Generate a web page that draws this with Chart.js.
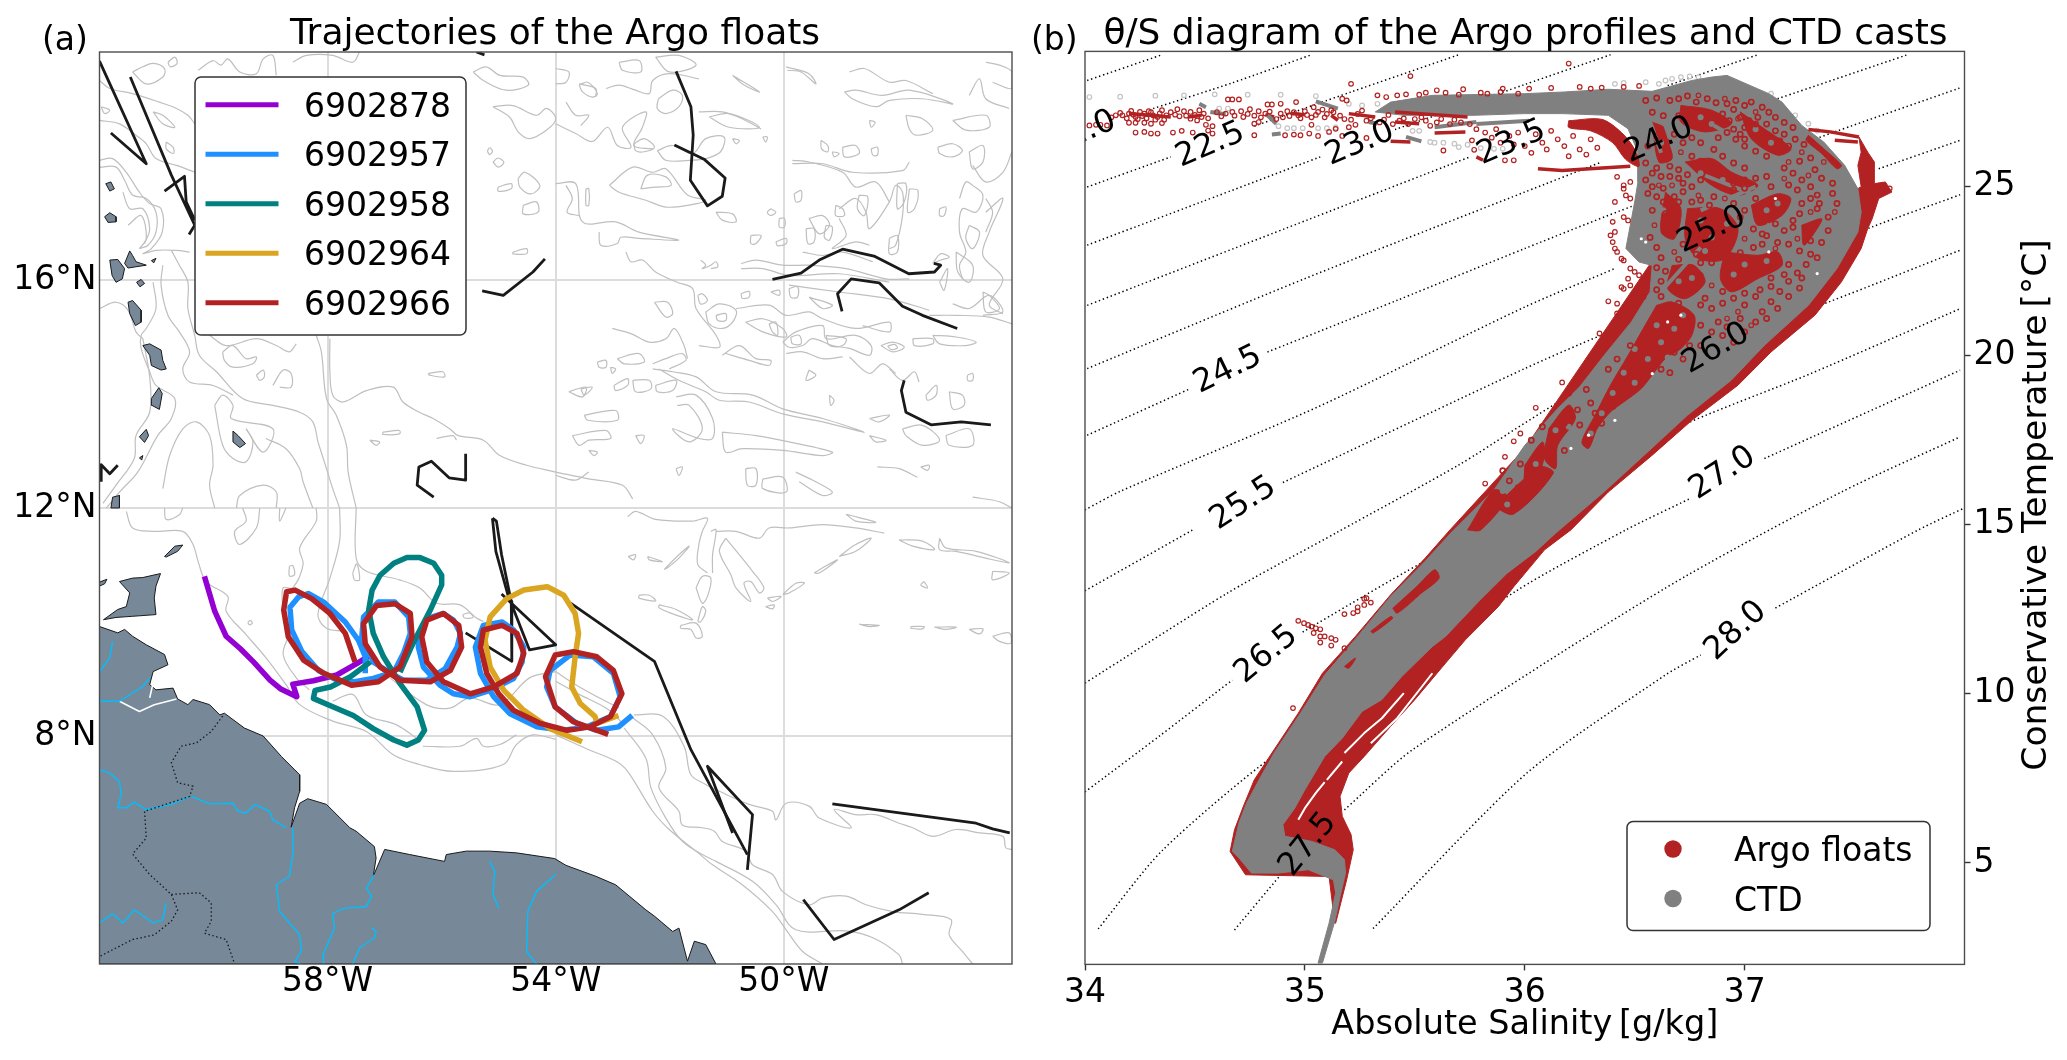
<!DOCTYPE html>
<html><head><meta charset="utf-8"><title>Argo floats</title>
<script src="https://cdn.jsdelivr.net/npm/chart.js@4/dist/chart.umd.js"></script>
<style>html,body{margin:0;padding:0;background:#fff;overflow:hidden}canvas{position:absolute;top:0}#map{left:0}#ts{left:1020px}</style>
</head><body>
<canvas id="map" width="1020" height="1060"></canvas>
<canvas id="ts" width="1047" height="1060"></canvas>
<script>
// ---------- text ----------
const mapTitle = 'Trajectories of the Argo floats';
const tsTitle = 'θ/S diagram of the Argo profiles and CTD casts';
const mapPanel = '(a)', tsPanel = '(b)';
const salinityLabel = 'Absolute Salinity\u2009[g/kg]';
const temperatureLabel = 'Conservative Temperature\u2009[°C]';
// ---------- axes ----------
const lonTicks = [-58, -54, -50], lonTickLabels = ['58°W', '54°W', '50°W'];
const latTicks = [8, 12, 16], latTickLabels = ['8°N', '12°N', '16°N'];
const salinityTicks = [34, 35, 36, 37];
const temperatureTicks = [5, 10, 15, 20, 25];
// ---------- float trajectories [lon, lat] ----------
const floatNames = ['6902878', '6902957', '6902958', '6902964', '6902966'];
const floatColors = ['#9400d3', '#1e90ff', '#008080', '#daa520', '#b22222'];
const float6902878 = [[-60.16,10.80],[-59.98,10.19],[-59.78,9.75],[-59.53,9.53],[-59.30,9.30],[-59.01,8.98],[-58.83,8.83],[-58.54,8.69],[-58.61,8.91],[-58.25,8.97],[-57.84,9.07],[-57.49,9.27],[-57.20,9.45]];
const float6902957 = [[-57.34,9.10],[-57.34,9.39],[-57.46,9.68],[-57.69,10.0],[-58.07,10.35],[-58.34,10.50],[-58.51,10.44],[-58.66,10.26],[-58.63,9.86],[-58.45,9.48],[-58.16,9.15],[-57.84,8.98],[-57.55,8.95],[-57.20,9.01],[-56.84,9.12],[-56.67,9.45],[-56.55,9.80],[-56.58,10.09],[-56.82,10.35],[-57.11,10.35],[-57.37,10.09],[-57.40,9.74],[-57.20,9.30],[-56.90,9.10],[-56.67,8.98],[-56.26,8.98],[-55.94,9.18],[-55.73,9.56],[-55.67,9.80],[-55.79,10.03],[-55.97,10.15],[-56.26,10.06],[-56.38,9.80],[-56.41,9.56],[-56.32,9.21],[-56.03,8.89],[-55.79,8.74],[-55.50,8.69],[-55.15,8.80],[-54.74,9.01],[-54.59,9.30],[-54.56,9.56],[-54.74,9.86],[-54.94,10.0],[-55.27,9.94],[-55.41,9.56],[-55.32,9.10],[-55.09,8.69],[-54.80,8.39],[-54.33,8.16],[-53.86,8.10],[-53.45,8.16],[-53.04,8.34],[-52.87,8.69],[-52.99,9.10],[-53.34,9.39],[-53.75,9.42],[-54.10,9.15],[-54.16,8.86],[-54.01,8.51],[-53.63,8.22],[-53.28,8.10],[-52.90,8.16],[-52.66,8.36]];
const float6902958 = [[-56.73,9.12],[-56.52,9.59],[-56.20,10.21],[-56.00,10.65],[-56.00,10.82],[-56.14,11.03],[-56.38,11.13],[-56.61,11.13],[-56.84,11.03],[-57.08,10.82],[-57.22,10.56],[-57.28,10.21],[-57.20,9.80],[-57.02,9.39],[-56.73,8.92],[-56.43,8.51],[-56.30,8.10],[-56.41,7.93],[-56.61,7.84],[-56.84,7.93],[-57.20,8.13],[-57.55,8.36],[-57.90,8.51],[-58.25,8.66],[-58.22,8.80],[-57.95,8.86],[-57.60,9.04],[-57.25,9.30]];
const float6902964 = [[-53.54,7.90],[-54.10,8.13],[-54.56,8.45],[-54.91,8.80],[-55.15,9.21],[-55.24,9.68],[-55.15,10.09],[-54.86,10.41],[-54.56,10.56],[-54.15,10.62],[-53.86,10.47],[-53.66,10.15],[-53.60,9.80],[-53.66,9.39],[-53.72,8.86],[-53.57,8.57],[-53.31,8.34],[-53.28,8.22],[-52.90,8.36]];
const float6902966 = [[-57.52,9.30],[-57.69,9.80],[-57.96,10.15],[-58.28,10.41],[-58.57,10.56],[-58.72,10.53],[-58.77,10.21],[-58.69,9.74],[-58.42,9.33],[-58.07,9.10],[-57.58,8.89],[-57.11,8.95],[-56.73,9.21],[-56.52,9.74],[-56.55,10.15],[-56.82,10.32],[-57.14,10.29],[-57.37,9.97],[-57.34,9.62],[-57.08,9.21],[-56.73,8.98],[-56.20,8.95],[-55.85,9.15],[-55.65,9.56],[-55.70,9.94],[-55.97,10.15],[-56.26,10.03],[-56.35,9.74],[-56.26,9.30],[-55.97,8.95],[-55.50,8.74],[-55.09,8.86],[-54.68,9.10],[-54.56,9.45],[-54.68,9.80],[-54.94,9.94],[-55.27,9.86],[-55.32,9.56],[-55.21,9.10],[-55.0,8.74],[-54.74,8.45],[-54.27,8.22],[-53.80,8.10],[-53.40,8.16],[-53.04,8.34],[-52.84,8.74],[-52.99,9.15],[-53.28,9.39],[-53.69,9.48],[-54.01,9.42],[-54.18,9.04],[-54.01,8.51],[-53.69,8.25],[-53.08,8.03]];
// ---------- CTD sections [lon, lat] ----------
const ctdTracks = [
[[-62,19.84],[-61.18,18.04],[-61.80,18.58]],
[[-61.46,19.56],[-60.74,17.84],[-60.33,16.96],[-60.43,16.80]],
[[-60.86,17.56],[-60.51,17.82],[-60.48,17.37],[-60.33,17.05]],
[[-55.29,15.81],[-54.92,15.73],[-54.40,16.14],[-54.19,16.37]],
[[-61.97,12.46],[-61.97,12.76],[-61.82,12.60],[-61.68,12.75]],
[[-56.14,12.19],[-56.43,12.40],[-56.40,12.72],[-56.18,12.82],[-55.87,12.53],[-55.58,12.49],[-55.58,12.95]],
[[-55.39,20],[-55.25,19.95]],
[[-51.89,19.66],[-51.63,19.04],[-51.59,18.54],[-51.64,17.75],[-51.34,17.30],[-51.08,17.47],[-51.03,17.79],[-51.40,18.12],[-51.92,18.37]],
[[-50.20,16.01],[-49.70,16.12],[-49.38,16.35],[-48.97,16.54],[-48.42,16.42],[-47.81,16.11],[-47.36,16.14],[-47.25,16.26],[-47.37,16.29]],
[[-48.98,15.45],[-49.06,15.76],[-48.82,16.02],[-48.33,15.95],[-47.92,15.54],[-47.57,15.38],[-46.96,15.15]],
[[-47.89,14.24],[-47.94,14.06],[-47.86,13.68],[-47.42,13.46],[-46.89,13.51],[-46.37,13.46]],
[[-55.11,11.82],[-55.04,11.77],[-54.95,11.18],[-54.78,10.36],[-54.77,9.31],[-55.58,9.81]],
[[-55.11,11.82],[-55.05,11.24],[-54.84,10.48],[-54.46,9.51],[-54,9.60],[-54.95,10.49]],
[[-53.74,10.33],[-52.27,9.31],[-51.63,7.76],[-50.64,5.92]],
[[-50.90,6.30],[-51.34,7.47],[-50.55,6.62],[-50.64,5.65]],
[[-49.15,6.81],[-46.63,6.47],[-46.34,6.37],[-46.04,6.30]],
[[-49.66,5.13],[-49.12,4.43],[-47.98,4.95],[-47.46,5.25]]
];
// ---------- land [lon, lat] ----------
const southAmerica = [[-62,9.92],[-61.68,9.81],[-61.56,9.87],[-61.42,9.75],[-61.18,9.60],[-60.86,9.43],[-60.80,9.25],[-61.06,9.13],[-61.12,8.90],[-61.01,8.81],[-60.71,8.84],[-60.63,8.65],[-60.45,8.55],[-60.36,8.64],[-60.07,8.55],[-59.89,8.37],[-59.81,8.40],[-59.46,8.14],[-59.13,8.00],[-58.81,7.64],[-58.49,7.32],[-58.49,7.03],[-58.58,6.74],[-58.64,6.40],[-58.49,6.82],[-58.35,6.90],[-58.02,6.80],[-57.61,6.39],[-57.50,6.33],[-57.18,6.06],[-57.15,5.86],[-57.20,5.54],[-57.00,6.01],[-56.56,5.92],[-55.95,5.80],[-55.92,5.92],[-55.57,5.98],[-55.16,5.98],[-54.69,5.95],[-54.02,5.85],[-53.82,5.73],[-53.30,5.54],[-52.95,5.39],[-52.42,4.95],[-52.27,4.84],[-51.95,4.57],[-51.84,4.63],[-51.75,4.28],[-51.69,4.05],[-51.57,4.40],[-51.37,4.34],[-51.19,4.0],[-62,4.0]];
const islands = [
[[-61.65,10.71],[-61.42,10.77],[-61.24,10.78],[-60.93,10.85],[-61.01,10.63],[-61.04,10.42],[-61.01,10.13],[-61.42,10.10],[-61.71,10.08],[-61.93,10.04],[-61.68,10.22],[-61.53,10.27],[-61.47,10.51]],
[[-60.86,11.15],[-60.68,11.33],[-60.54,11.35],[-60.63,11.24],[-60.83,11.14]],
[[-62,10.70],[-61.87,10.75],[-61.91,10.67],[-62,10.63]],
[[-61.89,17.69],[-61.80,17.72],[-61.74,17.60],[-61.82,17.56]],
[[-61.91,17.11],[-61.82,17.18],[-61.71,17.11],[-61.71,17.02],[-61.85,17.01]],
[[-61.82,16.35],[-61.68,16.36],[-61.56,16.20],[-61.60,16.02],[-61.71,15.96],[-61.78,16.08]],
[[-61.56,16.29],[-61.47,16.51],[-61.42,16.43],[-61.36,16.32],[-61.18,16.26],[-61.50,16.21]],
[[-61.35,15.96],[-61.27,16.01],[-61.21,15.94],[-61.29,15.88]],
[[-61.50,15.61],[-61.42,15.64],[-61.27,15.47],[-61.27,15.26],[-61.37,15.20],[-61.47,15.41]],
[[-61.24,14.85],[-61.12,14.88],[-60.92,14.77],[-60.89,14.59],[-60.83,14.44],[-60.92,14.42],[-61.09,14.50],[-61.12,14.68]],
[[-61.09,13.92],[-60.96,14.11],[-60.90,14.01],[-60.95,13.73],[-61.08,13.80]],
[[-61.30,13.25],[-61.18,13.38],[-61.14,13.27],[-61.21,13.15]],
[[-59.66,13.35],[-59.57,13.27],[-59.44,13.13],[-59.54,13.06],[-59.66,13.16]],
[[-61.77,12.19],[-61.65,12.22],[-61.65,12.0],[-61.80,12.0]],
[[-61.30,12.88],[-61.24,12.92],[-61.26,12.84]],[[-61.09,16.34],[-61.01,16.38],[-61.05,16.30]]
];
const countryBorders = [
[[-59.84,8.35],[-60.04,8.08],[-60.30,7.88],[-60.57,7.82],[-60.74,7.53],[-60.63,7.18],[-60.36,7.12],[-60.42,6.94],[-61.21,6.68],[-61.18,6.21],[-61.42,5.93],[-61.12,5.57],[-60.74,5.22],[-60.63,4.95],[-60.74,4.75],[-61.04,4.51],[-61.42,4.43],[-61.77,4.25],[-62,4.13]],
[[-60.74,5.22],[-60.25,5.25],[-60.04,5.07],[-60.04,4.75],[-60.16,4.54],[-59.78,4.43],[-59.63,4.0]]
];
const rivers = [
[[-62,7.41],[-61.82,7.35],[-61.65,7.20],[-61.62,6.97],[-61.68,6.74],[-61.53,6.74],[-61.39,6.84],[-61.18,6.71],[-60.74,6.80],[-60.42,6.94]],
[[-60.39,6.94],[-60.07,6.81],[-59.66,6.82],[-59.57,6.68],[-59.43,6.65],[-59.28,6.80],[-59.02,6.68],[-58.96,6.53],[-58.73,6.39]],
[[-58.61,6.39],[-58.61,5.92],[-58.67,5.54],[-58.90,5.39],[-58.84,4.92],[-58.49,4.51],[-58.46,4.22],[-58.58,4.04],[-58.46,4]],
[[-62,4.72],[-61.77,4.88],[-61.59,4.72],[-61.39,4.95],[-61.06,4.72],[-60.89,4.78],[-60.83,5.07]],
[[-57.18,5.57],[-57.32,5.33],[-57.23,5.19],[-57.32,5.01],[-57.70,4.98],[-57.91,4.89],[-57.88,4.63],[-58.08,4.16],[-58.07,4]],
[[-55.16,5.80],[-55.07,5.63],[-55.10,5.22],[-55.00,4.98]],
[[-57.23,4.64],[-57.15,4.57],[-57.18,4.46],[-57.44,4.28],[-57.56,4]],
[[-54,5.57],[-54.34,5.27],[-54.49,4.92],[-54.51,4.22],[-54.34,4]],
[[-62,9.13],[-61.82,9.37],[-61.77,9.66]],
[[-62,8.61],[-61.65,8.61],[-61.24,8.87],[-61.12,9.02]]
];
const riverMouths = [
[[-61.65,8.61],[-61.30,8.43],[-61.04,8.55],[-60.65,8.65]],
[[-61.12,8.67],[-61.04,9.02],[-60.80,9.20]]
];
// ---------- bathymetry contours [lon, lat] ----------
const bathymetry = [
[[-62,18.10],[-61.77,18.13],[-61.53,17.89],[-61.30,17.54],[-61.12,17.34],[-60.92,17.25],[-60.90,16.84],[-61.09,16.55],[-61.24,16.46],[-61.01,16.52],[-60.65,16.52],[-60.42,16.49]],
[[-62,17.98],[-61.71,17.98],[-61.56,17.75],[-61.42,17.49],[-61.18,17.43],[-61.01,17.19],[-61.01,16.84],[-61.15,16.61],[-61.30,16.55]],
[[-61.59,17.54],[-61.47,17.25],[-61.24,17.25],[-61.12,16.90],[-61.21,16.64]],
[[-61.50,16.96],[-61.27,17.13],[-61.18,16.73],[-61.30,16.55]],
[[-62,19.50],[-61.82,19.36],[-61.42,19.27],[-60.95,19.12],[-60.65,19.01],[-60.45,18.89],[-60.33,18.74]],
[[-62,18.80],[-61.65,18.74],[-61.36,18.54],[-61.18,18.39],[-61.01,18.13],[-60.65,18.01],[-60.33,17.89]],
[[-61.42,19.65],[-61.24,19.74],[-61.06,19.80],[-60.86,19.71],[-60.89,19.56],[-61.18,19.44],[-61.42,19.65]],
[[-61.06,18.95],[-60.89,18.89],[-60.68,18.68],[-60.89,18.74],[-61.06,18.95]],
[[-60.80,19.82],[-60.68,19.91],[-60.64,19.80],[-60.76,19.74],[-60.80,19.82]],
[[-60.83,18.42],[-60.71,18.33],[-60.70,18.22],[-60.83,18.30],[-60.83,18.42]],
[[-61.97,19.04],[-61.82,18.98],[-61.91,18.92],[-61.97,19.04]],
[[-60.27,19.68],[-60.01,19.85],[-59.87,19.77],[-59.75,19.88],[-59.54,19.65],[-59.25,19.62],[-59.13,19.88],[-58.96,19.94],[-58.90,19.59]],
[[-58.61,19.82],[-58.37,19.94],[-57.91,19.94],[-57.56,19.82],[-57.44,20]],
[[-55.45,19.65],[-55.22,19.74],[-54.98,19.59],[-54.57,19.56],[-54.48,19.42],[-54.87,19.33],[-55.27,19.50],[-55.45,19.65]],
[[-55.10,19.04],[-54.75,19.06],[-54.34,18.89],[-54.16,19.01],[-54,18.83],[-54.16,18.63],[-54.46,18.48],[-54.66,18.60],[-54.81,18.86],[-55.10,19.04]],
[[-55.10,18.07],[-55.01,18.14],[-54.91,18.06],[-55.01,17.98],[-55.10,18.07]],
[[-55.20,18.26],[-55.16,18.32],[-55.11,18.26],[-55.16,18.20],[-55.20,18.26]],
[[-54.66,17.78],[-54.54,17.89],[-54.28,17.66],[-54.43,17.51],[-54.63,17.63],[-54.66,17.78]],
[[-55.01,17.63],[-54.78,17.69],[-54.78,17.60],[-55.01,17.56],[-55.01,17.63]],
[[-54.57,17.31],[-54.34,17.37],[-54.31,17.19],[-54.57,17.16],[-54.57,17.31]],
[[-54.75,16.49],[-54.51,16.55],[-54.51,16.46],[-54.75,16.46],[-54.75,16.49]],
[[-60.74,16.52],[-60.60,16.26],[-60.45,15.96],[-60.45,15.50],[-60.33,15.03],[-60.25,14.68],[-59.95,14.39],[-59.49,13.92],[-58.96,13.80],[-58.49,13.68],[-58.26,13.51],[-58.17,13.16]],
[[-60.89,16.26],[-60.92,15.91],[-60.80,15.38],[-60.60,15.09],[-60.42,14.74],[-60.54,14.44],[-60.42,14.21],[-60.01,14.15],[-59.66,13.98]],
[[-61.06,15.96],[-61.01,15.50],[-61.18,15.15],[-61.27,15.03],[-61.27,14.80],[-61.12,14.39],[-61.01,14.15],[-60.68,13.92],[-60.74,13.57],[-60.98,13.27],[-61.33,12.63],[-61.65,12.28],[-61.88,12.0]],
[[-61.24,14.97],[-61.12,14.30],[-61.12,13.68],[-61.36,13.27],[-61.39,12.87],[-61.71,12.40],[-61.94,12.08]],
[[-62,15.50],[-61.71,15.61],[-61.50,15.47],[-61.36,15.09],[-61.24,14.97]],
[[-57.96,14.97],[-57.96,14.39],[-57.91,13.98],[-57.73,13.86],[-57.32,14.06],[-56.85,14.12],[-56.68,13.86],[-56.39,13.68],[-56.15,13.57],[-55.86,13.39],[-55.71,13.27],[-55.27,13.19],[-54.98,12.92],[-54.51,12.75],[-54,12.63]],
[[-58.20,15.03],[-58.11,14.74],[-58.02,13.92],[-57.85,13.63],[-57.67,13.10],[-57.64,12.63],[-57.50,12.0]],
[[-58.17,13.16],[-58.02,12.69],[-57.91,12.34],[-57.79,12]],
[[-59.98,13.80],[-59.84,13.98],[-59.66,13.80],[-59.69,13.57],[-58.96,13.39],[-59.13,12.98],[-59.43,13.39]],
[[-59.98,13.80],[-59.84,13.10],[-59.66,12.87],[-59.43,12.81],[-59.31,13.16],[-59.43,13.39]],
[[-60.89,12.34],[-60.77,12.92],[-60.54,13.39],[-60.30,13.51],[-60.07,13.27],[-60.01,12.75],[-60.07,12.40],[-59.98,12]],
[[-59.60,12],[-59.54,12.22],[-59.13,12.40],[-58.90,12.28],[-58.90,12]],
[[-59.08,13.22],[-58.73,13.04],[-58.49,12.69],[-58.43,12.46],[-58.26,12]],
[[-59.84,14.74],[-59.66,14.85],[-59.43,14.62],[-59.25,14.65],[-59.31,14.53],[-59.66,14.47],[-59.81,14.59],[-59.84,14.74]],
[[-59.25,14.33],[-59.13,14.42],[-59.11,14.30],[-59.19,14.24],[-59.25,14.33]],
[[-58.96,14.15],[-58.78,14.42],[-58.64,14.36],[-58.64,14.12],[-58.84,14.12]],
[[-56.24,14.36],[-55.98,14.39],[-55.95,14.30],[-56.21,14.33],[-56.24,14.36]],
[[-57.03,13.33],[-56.74,13.36],[-56.74,13.30],[-57.03,13.29],[-57.03,13.33]],
[[-56.09,13.22],[-55.80,13.27],[-55.74,13.19]],
[[-57.26,13.19],[-57.09,13.16],[-57.15,13.10],[-57.26,13.19]],
[[-60.07,15.03],[-59.78,14.85],[-59.25,14.97],[-58.90,14.85],[-58.67,14.74],[-58.55,14.88]],
[[-61.53,11.94],[-61.42,11.65],[-61.06,11.59],[-60.54,11.59],[-60.36,11.36],[-60.27,11.06],[-60.13,10.71],[-59.75,10.45],[-59.78,10.19],[-59.43,9.78],[-59.08,9.37],[-58.73,8.90],[-58.49,8.55],[-57.91,8.26],[-57.32,8.08],[-56.85,7.67],[-56.39,7.50],[-55.80,7.38],[-54.92,7.50],[-54.69,7.85],[-54.40,8.02],[-54,7.94]],
[[-58.20,12],[-58.20,11.77],[-58.49,11.30],[-58.43,11.01],[-58.61,10.60],[-58.78,10.60],[-58.78,10.25],[-58.67,9.84],[-58.78,9.43],[-58.55,9.02],[-58.32,8.81]],
[[-57.79,12],[-57.79,11.42],[-57.96,10.77],[-58.17,10.13],[-58.02,9.89],[-57.73,9.84]],
[[-57.50,12],[-57.50,11.12],[-57.32,10.89],[-56.74,10.74],[-56.39,10.60],[-56.09,10.33],[-55.68,10.30],[-55.39,10.07],[-55.27,10.01]],
[[-57.91,8.61],[-57.56,8.73],[-57.32,8.37],[-56.80,8.20],[-56.44,7.96]],
[[-56.91,9.02],[-56.27,8.55],[-55.86,8.49],[-55.51,8.67],[-54.98,8.55],[-54.46,9.02],[-54,9.13]],
[[-56.33,7.82],[-55.68,7.82],[-55.39,7.96],[-55.27,7.82],[-54.98,7.85],[-54.69,8.02]],
[[-58.67,10.98],[-58.61,10.99],[-58.58,10.83],[-58.67,10.81],[-58.67,10.98]],
[[-57.56,10.86],[-57.49,11.02],[-57.44,10.74],[-57.53,10.74],[-57.56,10.86]],
[[-59.40,9.99],[-59.36,10.03],[-59.32,9.98],[-59.37,9.95],[-59.40,9.99]],
[[-59.49,12],[-59.43,11.77],[-59.63,11.59],[-59.54,11.36],[-59.25,11.65],[-59.19,12]],
[[-60.86,12],[-60.83,11.80],[-60.60,11.88],[-60.54,12]],
[[-58.84,12],[-58.84,11.77],[-58.73,12]],
[[-55.63,10.13],[-55.51,10.16],[-55.45,10.08],[-55.60,10.07],[-55.63,10.13]],
[[-54,8.02],[-53.42,7.76],[-52.95,7.56],[-52.74,7.38],[-52.30,6.68],[-52.01,6.36],[-51.54,5.98],[-51.25,5.74],[-50.73,5.39],[-50.20,4.92],[-49.96,4.60],[-49.67,4.22],[-49.32,4]],
[[-52.80,8.14],[-52.42,7.61],[-52.33,7.09],[-52.07,6.56],[-51.78,6.15],[-51.43,5.92],[-51.19,5.80],[-50.55,5.45],[-50.14,5.04],[-49.79,4.60],[-48.91,4.58],[-48.44,4.46],[-47.98,4.16],[-47.92,4]],
[[-52.65,8.32],[-52.30,8.02],[-52.07,7.44],[-52.19,7.09],[-51.84,6.68],[-51.78,6.44],[-51.43,6.39],[-51.22,6.33],[-51.08,6.15],[-50.67,5.98],[-50.55,5.74],[-50.20,5.57],[-50.02,5.27],[-49.56,5.04],[-49.32,5.16],[-48.91,5.19],[-48.56,5.04],[-48.09,4.92],[-47.57,4.87],[-47.07,4.78],[-47.10,4.51],[-46.87,4.22],[-46.69,4]],
[[-52.63,8.37],[-52.13,8.35],[-51.75,7.82],[-51.63,7.32],[-51.37,7.15],[-51.13,7.03],[-50.61,6.80],[-50.20,6.68],[-50.14,6.53],[-49.96,6.82],[-49.56,6.77],[-49.38,6.56],[-48.82,6.39],[-49.12,6.71],[-48.74,6.62],[-48.39,6.62],[-47.98,6.47],[-47.74,6.39],[-47.39,6.24],[-46.98,6.36],[-46.57,6.30],[-46.16,6.24],[-46.11,6.04],[-46,6.01]],
[[-54,9.13],[-53.65,8.90],[-53.24,8.67],[-52.89,8.49]],
[[-54,8.96],[-53.59,8.73],[-53.12,8.49],[-52.80,8.20]],
[[-52.74,11.85],[-52.60,11.94],[-52.25,11.80],[-51.60,11.77],[-51.34,11.82],[-51.43,11.59],[-51.49,11.36],[-51.51,11.01],[-51.34,10.86]],
[[-51.54,10.60],[-51.43,10.80],[-51.28,10.77],[-51.34,10.45],[-51.43,10.33],[-51.54,10.60]],
[[-51.02,11.47],[-50.55,10.89],[-50.35,10.60],[-50.43,10.51],[-50.58,10.71],[-50.70,10.68],[-50.58,10.36],[-50.84,10.60],[-50.93,10.83],[-51.13,11.24],[-51.02,11.47]],
[[-51.28,11.59],[-51.19,11.62],[-51.25,11.18],[-51.25,10.86]],
[[-51.19,11.59],[-50.84,11.59],[-50.43,11.47],[-50.26,11.65],[-49.91,11.65],[-49.32,11.71],[-48.74,11.65],[-48.24,11.56]],
[[-52.54,10.47],[-52.36,10.47],[-52.25,10.37],[-52.54,10.42],[-52.54,10.47]],
[[-52.19,10.30],[-51.89,10.22],[-51.60,10.04],[-51.89,10.12],[-52.19,10.25],[-52.19,10.30]],
[[-51.81,9.94],[-51.54,9.98],[-51.43,9.75],[-51.54,9.72],[-51.63,9.87],[-51.81,9.89],[-51.81,9.94]],
[[-51.51,10.01],[-51.43,10.27],[-51.37,10.19],[-51.46,10.0],[-51.51,10.01]],
[[-50.02,10.48],[-49.79,10.68],[-49.64,10.68],[-49.91,10.51],[-50.02,10.48]],
[[-49.47,10.86],[-49.32,10.95],[-49.06,11.09],[-49.38,10.86],[-49.47,10.86]],
[[-49.03,11.15],[-48.74,11.36],[-48.47,11.47],[-48.74,11.24],[-49.03,11.15]],
[[-50.29,10.42],[-50.05,10.45],[-50.20,10.36],[-50.29,10.42]],
[[-50.32,10.27],[-50.17,10.30],[-50.20,10.23],[-50.32,10.27]],
[[-47.27,11.47],[-47.16,11.30],[-46.63,11.24],[-46.05,11.04],[-46.46,11.12],[-46.98,11.24],[-47.27,11.27],[-47.27,11.47]],
[[-48.91,11.89],[-48.39,11.75],[-48.74,11.77],[-48.91,11.89]],
[[-47.98,11.44],[-47.57,11.42],[-47.36,11.27],[-47.74,11.33],[-47.98,11.44]],
[[-47.77,9.92],[-47.54,9.92],[-47.57,9.88],[-47.77,9.89],[-47.77,9.92]],
[[-47.36,9.91],[-46.98,9.91],[-47.16,9.87],[-47.36,9.91]],
[[-48.68,9.96],[-48.33,9.94],[-48.50,9.92],[-48.68,9.96]],
[[-46.75,9.87],[-46.51,9.88],[-46.57,9.79],[-46.75,9.87]],
[[-46.34,9.75],[-46.05,9.81],[-46.02,9.63],[-46.22,9.66],[-46.34,9.75]],
[[-47.54,10.71],[-47.48,10.60],[-47.60,10.65],[-47.54,10.71]],
[[-52.10,10.92],[-51.84,11.18],[-51.66,11.33],[-51.84,11.12],[-52.04,10.95],[-52.10,10.92]],
[[-52.39,11.15],[-52.13,11.06],[-52.36,11.09],[-52.39,11.15]],
[[-52.73,11.15],[-52.60,11.18],[-52.64,11.09],[-52.73,11.15]],
[[-46.34,10.89],[-46.05,10.86],[-46.34,10.74],[-46.34,10.89]],
[[-54,18.74],[-53.65,18.57],[-53.36,18.43],[-53.09,18.68],[-52.92,18.36],[-52.68,18.33],[-52.83,18.68],[-52.42,18.95],[-52.48,18.68],[-52.63,18.36],[-52.30,18.30]],
[[-53.12,19.36],[-52.89,19.42],[-52.60,19.33],[-52.36,19.27],[-52.30,19.50],[-52.01,19.62],[-51.49,19.53]],
[[-52.22,18.27],[-51.95,18.36],[-51.60,18.22],[-51.37,18.48],[-51.05,18.51],[-51.11,18.25],[-51.37,18.13],[-51.66,18.10],[-52.07,18.10],[-52.22,18.27]],
[[-53.06,17.66],[-52.65,17.98],[-52.30,17.89],[-52.07,17.95],[-51.69,17.49],[-51.37,17.40],[-51.69,17.31],[-52.07,17.28],[-52.42,17.40],[-52.89,17.54],[-53.06,17.66]],
[[-52.51,17.60],[-52.39,17.84],[-52.07,17.81],[-51.98,17.66],[-52.25,17.63],[-52.51,17.60]],
[[-51.19,17.19],[-50.90,17.16],[-50.84,17.02],[-51.08,17.05],[-51.19,17.19]],
[[-54,17.69],[-53.65,17.69],[-53.53,17.02],[-52.95,17.02],[-52.54,16.84],[-51.84,16.70],[-52.54,16.73],[-52.86,16.75],[-52.92,16.64],[-53.21,16.61],[-53.24,16.84]],
[[-52.77,16.49],[-52.68,16.32],[-52.48,16.35],[-52.25,16.14],[-51.87,15.96],[-51.60,15.85],[-51.54,15.50],[-51.19,15.03],[-51.13,14.82],[-51.49,14.85]],
[[-51.37,15.44],[-51.13,15.58],[-50.84,15.47],[-50.90,15.26],[-51.08,15.15],[-51.31,15.23],[-51.37,15.44]],
[[-51.19,15.38],[-51.02,15.41],[-51.02,15.29],[-51.16,15.29],[-51.19,15.38]],
[[-50.67,15.26],[-50.37,15.32],[-50.02,15.15],[-49.96,15.0],[-50.37,15.09],[-50.67,15.26]],
[[-50.84,15.50],[-50.26,15.56],[-49.96,15.38],[-49.56,15.44],[-49.32,15.32],[-48.74,15.15],[-48.15,15.26],[-48.15,15.09],[-48.62,15.20]],
[[-50.02,14.91],[-49.79,15.09],[-49.32,15.20],[-49.26,14.97],[-48.74,15.03],[-48.47,14.85],[-48.50,14.68],[-48.85,14.80],[-49.15,14.85],[-49.50,14.97],[-49.67,14.85],[-49.91,14.82],[-50.02,14.91]],
[[-49.88,15.0],[-49.73,15.03],[-49.70,14.88],[-49.85,14.88],[-49.88,15.0]],
[[-52.30,14.44],[-51.95,14.39],[-51.54,14.30],[-51.19,14.04],[-50.55,13.98],[-50.02,13.74],[-49.32,13.57],[-48.59,13.33],[-49.32,13.51],[-50.02,13.65],[-50.61,13.86],[-51.13,13.89],[-51.37,14.04],[-51.84,14.24],[-52.19,14.44]],
[[-51.89,13.95],[-51.54,13.98],[-51.25,13.57],[-51.25,13.22],[-51.49,13.22],[-51.95,13.39],[-51.66,13.16],[-51.43,13.39],[-51.66,13.80],[-51.87,13.80]],
[[-51.08,13.33],[-50.49,13.27],[-49.91,13.16],[-49.15,12.98],[-49.32,12.92],[-50.02,13.01],[-50.73,13.04],[-51.02,12.98],[-51.08,13.33]],
[[-53.71,13.27],[-53.12,13.36],[-53.04,13.22],[-53.42,13.19],[-53.59,13.10],[-53.71,13.27]],
[[-53.50,13.63],[-52.95,13.71],[-52.92,13.54],[-53.44,13.54],[-53.50,13.63]],
[[-52.98,14.15],[-52.74,14.27],[-52.74,14.15],[-52.95,14.06],[-52.98,14.15]],
[[-52.65,14.24],[-52.36,14.24],[-52.33,14.09],[-52.60,14.04],[-52.65,14.24]],
[[-52.25,14.15],[-51.89,14.24],[-51.95,14.06],[-52.22,14.04],[-52.25,14.15]],
[[-53.01,15.15],[-52.68,15.06],[-52.36,14.91],[-52.07,14.97],[-51.92,15.15],[-51.75,14.85],[-51.69,14.62]],
[[-51.08,14.68],[-50.78,14.85],[-50.49,14.62],[-50.23,14.59],[-50.26,14.50],[-50.61,14.59],[-51.02,14.71]],
[[-52.30,14.53],[-52.07,14.62],[-51.78,14.71],[-51.72,14.59],[-52.01,14.44]],
[[-49.85,18.10],[-49.56,18.07],[-48.97,17.89],[-48.74,17.63],[-48.39,17.72],[-48.15,17.37]],
[[-49.85,18.04],[-49.32,18.04],[-48.80,17.89],[-47.92,17.92],[-47.80,18.07]],
[[-48.94,19.30],[-48.74,19.33],[-48.27,19.24],[-47.80,19.33],[-47.04,19.09],[-47.57,19.18],[-48.15,19.15],[-48.39,19.04],[-48.80,19.18],[-48.94,19.30]],
[[-49.96,19.74],[-49.56,19.62],[-49.44,19.44],[-49.70,19.65],[-49.94,19.68]],
[[-48.85,19.65],[-48.59,19.71],[-48.15,19.47],[-47.86,19.50],[-47.39,19.27]],
[[-47.04,18.80],[-46.46,18.89],[-46.40,18.68],[-46.81,18.63],[-47.04,18.80]],
[[-47.86,18.89],[-47.57,18.83],[-47.39,18.63],[-47.68,18.54],[-47.80,18.65],[-47.86,18.89]],
[[-47.30,18.33],[-47.04,18.39],[-46.87,18.27],[-47.04,18.16],[-47.27,18.22],[-47.30,18.33]],
[[-48.97,18.33],[-48.74,18.36],[-48.68,18.22],[-48.94,18.16],[-48.97,18.33]],
[[-46.92,17.43],[-46.81,17.72],[-46.69,17.66],[-46.51,17.49],[-46.63,17.19],[-46.87,17.25],[-46.92,16.84],[-46.81,16.49],[-46.92,16.26],[-46.87,16.02]],
[[-46.46,17.19],[-46.16,17.43],[-46.40,16.84],[-46.51,16.43],[-46.16,16.02],[-46.40,15.56],[-46.16,15.41]],
[[-46.69,18.01],[-46.46,17.72],[-46.16,17.89],[-46,18.25]],
[[-49.03,17.25],[-48.74,17.43],[-48.56,17.19],[-48.50,16.90],[-48.15,17.37],[-48.04,17.66],[-47.92,17.54],[-47.92,17.13],[-48.04,16.61],[-48.15,16.55]],
[[-49.03,17.08],[-48.91,16.78],[-49.15,16.55],[-48.74,16.67],[-48.50,16.61]],
[[-49.56,17.08],[-49.32,17.13],[-49.20,16.96],[-49.38,16.81],[-49.56,17.08]],
[[-49.61,16.90],[-49.47,16.90],[-49.47,16.67],[-49.58,16.64],[-49.61,16.90]],
[[-50.08,17.08],[-49.99,17.08],[-49.99,16.93],[-50.08,16.93],[-50.08,17.08]],
[[-50.14,16.67],[-49.96,16.73],[-49.96,16.64],[-50.11,16.60],[-50.14,16.67]],
[[-50.75,16.29],[-50.49,16.35],[-50.02,16.26],[-49.56,16.26],[-48.91,16.20],[-48.21,16.02],[-47.80,16.02]],
[[-50.75,16.20],[-50.37,16.20],[-49.91,16.08],[-49.03,16.11],[-48.15,15.96]],
[[-49.91,15.91],[-49.03,15.79],[-48.15,15.67],[-47.45,15.47]],
[[-49.67,16.49],[-49.32,16.43],[-48.97,16.49],[-48.44,16.32]],
[[-47.39,15.03],[-46.98,15.0],[-46.63,14.91],[-46.81,14.85],[-47.27,14.88],[-47.39,15.03]],
[[-47.74,14.97],[-47.39,14.97],[-47.39,14.88],[-47.71,14.85],[-47.74,14.97]],
[[-48.30,14.85],[-48.09,14.91],[-47.89,14.82],[-48.09,14.74],[-48.30,14.85]],
[[-48.18,14.84],[-48.06,14.87],[-48.01,14.81],[-48.12,14.78],[-48.18,14.84]],
[[-47.51,13.98],[-47.33,14.15],[-47.33,13.98],[-47.48,13.89],[-47.51,13.98]],
[[-47.10,14.04],[-46.87,13.98],[-46.84,13.80],[-47.04,13.74],[-47.10,14.04]],
[[-47.16,13.27],[-46.75,13.39],[-46.69,13.10],[-47.10,13.10],[-47.16,13.27]],
[[-47.92,13.39],[-47.57,13.45],[-47.27,13.19],[-47.57,13.10],[-47.86,13.27],[-47.92,13.39]],
[[-47.45,15.38],[-46.98,15.38],[-46.40,15.35],[-46,15.23]],
[[-47.04,15.58],[-46.75,15.50],[-46.40,15.73],[-46.16,15.44],[-46.51,15.38]],
[[-54,12.63],[-53.42,12.51],[-52.83,12.40],[-52.65,12.16]],
[[-50.37,12.51],[-50.02,12.54],[-49.96,12.28],[-50.37,12.34],[-50.37,12.51]],
[[-49.79,12.63],[-49.44,12.46],[-49.15,12.28],[-49.32,12.22],[-49.73,12.46]],
[[-48.36,12.72],[-47.98,12.69],[-47.66,12.54]],
[[-46.69,12.19],[-46.22,12.11],[-46,12]],
[[-46.75,19.24],[-46.57,19.53],[-46.46,19.18],[-46.05,19.01]],
[[-46.46,19.82],[-46.22,19.77],[-46,19.65],[-46,19.36],[-46.34,19.47]],
[[-53.82,19.12],[-53.65,18.89],[-53.42,18.89],[-53.56,18.71]],
[[-53.59,19.44],[-53.30,19.36],[-53.30,19.21]],
[[-54,19.71],[-53.77,19.65],[-53.82,19.47],[-54,19.44]],
[[-52.89,19.82],[-52.54,19.85],[-52.51,19.65],[-52.83,19.68],[-52.89,19.82]],
[[-52.25,19.91],[-51.84,19.94],[-51.54,19.77],[-52.01,19.65],[-52.25,19.91]],
[[-50.90,19.59],[-50.43,19.30],[-50.70,19.42],[-50.90,19.59]],
[[-51.31,18.86],[-50.96,18.92],[-50.43,18.68],[-50.96,18.68],[-51.31,18.86]],
[[-53.77,14.04],[-53.47,14.12],[-53.53,13.95],[-53.77,14.04]],
[[-48.15,14.44],[-47.92,14.24],[-47.71,14.39],[-47.63,14.21]],
[[-48.85,14.65],[-48.50,14.36],[-48.27,14.53],[-48.04,14.36]],
[[-49.96,14.71],[-49.67,14.74],[-49.32,14.62],[-48.97,14.65]],
[[-49.56,14.42],[-49.44,14.33],[-49.61,14.24],[-49.56,14.42]],
[[-53.59,19.42],[-53.44,19.47],[-53.27,19.27],[-53.36,19.21],[-53.53,19.30],[-53.59,19.42]],
[[-52.63,18.39],[-52.45,18.48],[-52.27,18.33],[-52.45,18.25],[-52.60,18.27],[-52.63,18.39]],
[[-50.90,18.48],[-50.78,18.45],[-50.84,18.39],[-50.90,18.48]],
[[-50.37,18.51],[-50.29,18.51],[-50.32,18.42],[-50.37,18.51]],
[[-52.20,19.18],[-51.95,19.33],[-51.78,19.24],[-51.84,19.04],[-52.07,18.92],[-52.22,19.01],[-52.20,19.18]],
[[-51.49,18.95],[-51.08,18.95],[-50.73,18.83],[-50.40,18.65]],
[[-53.47,17.60],[-53.42,17.60],[-53.42,17.31],[-53.47,17.31],[-53.47,17.60]],
[[-53.82,17.66],[-53.71,17.43],[-53.80,17.19],[-53.59,17.13]],
[[-50.58,16.78],[-50.40,16.78],[-50.49,16.64],[-50.58,16.64],[-50.58,16.78]],
[[-51.46,16.35],[-51.37,16.26],[-51.43,16.20],[-51.28,16.26],[-51.19,16.32],[-51.16,16.23],[-51.28,16.20]],
[[-50.23,17.25],[-50.14,17.19],[-50.23,17.13],[-50.29,17.19],[-50.23,17.25]],
[[-49.82,17.51],[-49.70,17.57],[-49.70,17.40],[-49.79,17.37],[-49.82,17.51]],
[[-49.35,18.45],[-49.23,18.36],[-49.23,18.25],[-49.34,18.30],[-49.35,18.45]],
[[-49.15,18.25],[-49.03,18.22],[-49.12,18.16],[-49.15,18.25]],
[[-48.47,18.30],[-48.36,18.33],[-48.36,18.19],[-48.44,18.19],[-48.47,18.30]],
[[-48.50,18.80],[-48.40,18.77],[-48.47,18.68],[-48.50,18.80]],
[[-48.01,17.69],[-47.86,17.69],[-47.89,17.37],[-48.01,17.25],[-48.01,17.69]],
[[-47.80,17.60],[-47.65,17.57],[-47.71,17.25],[-47.83,17.19],[-47.80,17.60]],
[[-48.68,17.49],[-48.53,17.46],[-48.59,17.13],[-48.71,17.25],[-48.68,17.49]],
[[-49.09,17.31],[-48.97,17.25],[-48.94,17.13],[-49.09,17.13],[-49.09,17.31]],
[[-49.26,16.96],[-49.15,16.93],[-49.20,16.70],[-49.29,16.75],[-49.26,16.96]],
[[-48.15,16.73],[-48.01,16.78],[-48.01,16.49],[-48.15,16.46],[-48.15,16.73]],
[[-47.27,17.25],[-47.16,17.28],[-47.19,17.13],[-47.27,17.13],[-47.27,17.25]],
[[-46.75,18.25],[-46.51,18.36],[-46.51,18.07],[-46.69,17.95],[-46.75,18.25]],
[[-47.27,15.96],[-47.13,16.20],[-47.19,15.82],[-47.27,15.96]],
[[-47.39,16.29],[-47.25,16.46],[-47.10,16.40],[-47.25,16.35],[-47.39,16.29]],
[[-46.46,17.43],[-46.34,17.19],[-46.46,16.84]],
[[-46.75,16.96],[-46.57,16.84],[-46.69,16.55],[-46.81,16.73],[-46.75,16.96]],
[[-46.98,16.49],[-46.69,16.26],[-46.75,15.96],[-46.95,16.14],[-46.98,16.49]],
[[-46.51,15.79],[-46.40,15.73],[-46.22,15.50],[-46.46,15.44],[-46.51,15.79]],
[[-51.51,15.73],[-51.43,15.76],[-51.34,15.64],[-51.46,15.58],[-51.51,15.73]],
[[-52.27,15.61],[-52.04,15.61],[-51.95,15.41],[-52.07,15.35],[-52.27,15.61]],
[[-50.75,15.76],[-50.61,15.80],[-50.61,15.70],[-50.73,15.68],[-50.75,15.76]],
[[-50.23,15.79],[-50.08,15.82],[-50.08,15.73],[-50.23,15.79]],
[[-49.91,15.85],[-49.76,15.88],[-49.76,15.70],[-49.88,15.70],[-49.91,15.85]],
[[-49.56,15.70],[-49.15,15.56],[-49.32,15.50],[-49.56,15.70]],
[[-50.26,15.23],[-50.14,15.26],[-50.11,15.03],[-50.20,15.09],[-50.26,15.23]],
[[-49.26,15.03],[-48.91,14.97],[-48.97,14.85],[-49.20,14.85],[-49.26,15.03]],
[[-53.27,14.56],[-53.12,14.59],[-53.12,14.47],[-53.24,14.47],[-53.27,14.56]],
[[-53.04,14.47],[-52.95,14.44],[-53.01,14.36],[-53.04,14.47]],
[[-52.92,14.62],[-52.54,14.71],[-52.45,14.56],[-52.80,14.53],[-52.92,14.62]],
[[-53.56,14.09],[-53.36,14.12],[-53.50,13.98],[-53.56,14.09]],
[[-52.60,13.27],[-52.45,13.27],[-52.51,13.13],[-52.60,13.27]],
[[-53.42,13.01],[-53.27,12.98],[-53.33,12.92],[-53.42,13.01]],
[[-51.89,12.69],[-51.78,12.72],[-51.84,12.57],[-51.89,12.69]],
[[-48.50,13.57],[-48.15,13.63],[-48.33,13.51],[-48.50,13.57]],
[[-48.50,13.27],[-48.21,13.19],[-48.39,13.16],[-48.50,13.27]],
[[-47.60,12.72],[-47.45,12.75],[-47.48,12.66],[-47.60,12.72]],
[[-49.20,13.98],[-49.12,13.89],[-49.18,13.80],[-49.20,13.98]],
[[-46.78,14.33],[-46.69,14.36],[-46.69,14.24],[-46.78,14.24],[-46.78,14.33]],
[[-50.67,12.69],[-50.49,12.69],[-50.49,12.40],[-50.64,12.40],[-50.67,12.69]],
[[-54,12.57],[-53.65,12.49],[-53.42,12.63]]
];
// ---------- isopycnals [S, T]; null breaks the line where its label sits ----------
const isopycnals = [
[[34.01,28.14],[34.35,28.90]],
[[34.31,27.31],[34.67,28.07],[35.03,28.90]],
[[34.01,24.99],[34.39,25.88],null,[34.77,26.79],[35.21,27.80],[35.70,28.90]],
[[34.01,23.27],[34.53,24.55],[35.07,25.88],null,[35.41,26.69],[36.0,28.02],[36.39,28.90]],
[[34.01,21.49],[34.91,23.76],[35.75,25.88],null,[36.65,27.99],[37.06,28.90]],
[[34.01,19.62],[35.0,22.28],[36.0,24.84],[36.35,25.73],null,[37.15,27.60],[37.74,28.90]],
[[34.01,17.65],[34.48,19.03],null,[34.83,20.11],[35.42,21.64],[36.0,23.17],[36.5,24.45],[37.41,26.62],[37.98,27.92]],
[[34.0,15.44],[34.16,15.99],[35.06,18.49],[36.0,21.44],[36.41,22.58],null,[37.61,25.53],[37.98,26.37]],
[[34.0,13.05],[34.49,14.85],null,[34.90,16.25],[36.0,19.62],[36.35,20.61],[37.58,23.81],[37.98,24.76]],
[[34.0,10.32],[34.65,12.99],[35.15,14.79],[35.70,16.77],[36.30,19.14],[37.30,21.39],[37.98,23.12]],
[[34.0,7.10],[34.34,8.76],[34.67,10.41],null,[34.99,11.83],[35.53,13.87],[36.67,17.80],[37.30,19.47],[37.98,21.39]],
[[34.06,3.05],[34.35,5.36],[34.85,8.13],[35.96,13.04],[36.46,14.85],[36.75,15.77],null,[37.09,16.96],[37.98,19.57]],
[[34.68,3.02],[34.89,4.65],null,[35.18,6.57],[35.49,8.35],[36.64,13.13],[37.44,15.97],[37.98,17.60]],
[[35.31,3.06],[36.01,7.66],[36.64,10.56],[36.80,11.15],null,[37.14,12.54],[37.79,14.85],[38.0,15.5]]
];
// label text, S, T, rotation in degrees
const isopycnalLabels = [
['22.0',33.985,26.57,-23],['22.5',34.57,26.22,-23],['23.0',35.25,26.27,-23],['23.5',35.94,26.29,-23],['24.0',36.61,26.37,-24],
['24.5',34.65,19.57,-26],['25.0',36.85,23.71,-25],['25.5',34.72,15.63,-33],['26.0',36.87,20.21,-30],['26.5',34.825,11.16,-40],
['27.0',36.90,16.52,-33],['27.5',35.015,5.54,-51],['28.0',36.96,11.86,-43]
];
// ---------- theta/S envelope of the CTD casts [S, T] ----------
const ctdEnvelope = [[35.06,2.04],[35.08,2.04],[35.136,3.27],[35.16,4.0],[35.185,4.70],[35.18,5.10],[35.136,5.39],[35.03,5.64],[34.909,5.79],[34.90,6.13],[34.954,6.62],[34.996,7.12],[35.09,8.15],[35.17,8.69],[35.26,9.48],[35.35,9.83],[35.44,10.51],[35.58,11.40],[35.64,11.70],[35.79,12.73],[35.92,13.57],[36.05,14.21],[36.14,14.75],[36.36,15.97],[36.56,17.16],[36.74,18.24],[36.94,19.28],[37.09,20.31],[37.29,21.49],[37.42,22.58],[37.515,23.66],[37.53,24.25],[37.515,24.94],[37.455,25.63],[37.36,26.32],[37.26,26.81],[37.17,27.50],[37.11,27.75],[36.92,28.29],[36.85,28.24],[36.76,28.14],[36.58,27.82],[36.38,27.88],[36.18,27.80],[36.0,27.75],[35.58,27.70],[35.39,27.50],[35.32,27.21],[35.45,27.11],[35.58,27.11],[35.77,27.11],[36.0,27.16],[36.17,27.16],[36.38,27.11],[36.47,26.71],[36.515,26.02],[36.515,25.14],[36.50,24.55],[36.48,23.86],[36.46,23.17],[36.52,22.77],[36.58,22.67],[36.57,21.89],[36.485,21.0],[36.36,20.0],[36.25,19.08],[36.15,18.44],[36.0,17.35],[35.86,16.03],[35.67,14.80],[35.545,13.91],[35.39,12.88],[35.24,11.70],[35.09,10.56],[34.98,9.43],[34.92,8.84],[34.86,8.25],[34.80,7.56],[34.735,6.77],[34.70,6.18],[34.67,5.34],[34.70,5.15],[34.757,4.70],[34.88,4.70],[35.015,4.80],[35.13,4.5],[35.14,4.11],[35.11,3.22]];
const ctdStreaks = [
[[34.52,27.45],[34.55,27.35]],[[34.57,27.21],[34.64,27.14]],[[34.83,27.11],[34.87,26.86]],[[34.85,26.54],[34.89,26.57]],[[35.05,27.52],[35.15,27.31]],[[35.29,26.91],[35.33,26.86]],[[35.46,26.47],[35.53,26.34]],[[35.59,26.76],[35.78,26.91]],[[35.78,26.85],[36.02,26.95]],
[[36.61,27.40],[36.68,26.02],[36.73,24.55]],[[36.82,25.33],[37.05,24.74]],[[36.86,26.81],[37.15,25.73]],[[36.55,27.3],[36.62,26.0]],[[37.0,25.7],[37.26,24.9]],[[37.1,23.9],[37.25,22.9]],[[36.8,24.3],[37.05,25.0]],[[36.62,21.9],[36.8,23.2]]
];
const ctdOutliers = [[34.02,27.65],[34.16,27.66],[34.32,27.69],[34.45,27.70],[34.59,27.73],[34.74,27.72],[34.89,27.72],[35.05,27.68],[34.61,27.31],[34.65,27.31],[34.88,26.79],[34.92,26.73],[34.95,26.73],[34.99,26.73],[35.06,26.73],[35.10,26.73],[35.14,26.75],[35.49,26.65],[35.52,26.65],[35.57,26.32],[35.59,26.30],[35.63,26.30],[35.68,26.27],[35.70,26.17],[35.74,26.24],[35.80,26.14],[35.86,26.12],[35.90,26.12],[35.20,27.45],[35.26,27.40],[35.33,27.45],[36.41,28.04],[36.45,28.07],[36.55,28.09],[36.61,28.04],[36.64,28.14],[36.67,28.19],[36.71,28.24],[36.75,28.26],[36.79,28.24],[37.12,27.75],[37.17,27.35],[37.23,27.11],[37.29,26.86],[37.33,26.66],[36.485,21.59],[36.45,21.2],[36.41,20.70],[36.40,20.51],[36.36,20.11],[36.32,19.82],[36.27,19.52],[36.25,19.23],[36.42,20.95]];
const ctdBlobs = [[36.5,20.2],[36.56,19.9],[36.62,20.4],[36.68,20.8],[36.72,21.2],[36.6,20.9],[36.45,19.5],[36.4,18.9],[36.35,18.3],[36.5,19.2],[36.3,17.7],[36.65,19.95],[36.2,17.9],[36.14,17.8],[36.05,16.8],[35.92,15.6],[35.9,16.0],[36.8,24.0],[36.85,23.5],[36.92,23.9],[36.82,23.1],[36.7,22.2],[36.76,22.3],[37.0,22.7],[37.1,22.8],[36.95,22.4],[37.1,24.3],[37.15,24.5],[36.8,27.05],[36.85,26.85],[37.05,26.7],[37.12,26.3],[36.8,25.4],[36.9,25.2],[37.0,24.95],[36.62,26.3],[36.63,24.3]];
const sampleHoles = [[37.11,23.07],[37.14,24.65],[37.33,22.43],[36.53,23.46],[36.55,23.36],[36.65,21.0],[36.71,21.2],[36.58,19.47],[36.41,18.09],[36.29,17.65],[36.21,17.26]];
// ---------- Argo profiles [S, T] ----------
const argoEnvelope = [[35.14,3.22],[35.19,4.5],[35.22,5.39],[35.21,5.84],[35.17,6.38],[35.16,6.97],[35.20,7.66],[35.27,8.15],[35.39,9.04],[35.50,9.83],[35.64,10.91],[35.73,11.60],[35.88,12.58],[35.95,13.17],[36.09,14.26],[36.21,14.85],[36.38,15.97],[36.58,17.06],[36.76,18.09],[36.97,19.13],[37.12,20.11],[37.32,21.2],[37.44,22.18],[37.53,23.17],[37.56,23.76],[37.58,24.05],[37.61,24.65],[37.67,24.84],[37.64,25.14],[37.59,25.09],[37.59,25.73],[37.56,26.02],[37.52,26.47],[37.53,26.02],[37.515,25.63],[37.53,25.0],[37.4,24.5],[36.6,23.0],[36.0,17.26],[35.66,14.85],[35.545,14.0],[35.39,12.93],[35.23,11.70],[35.08,10.61],[34.97,9.43],[34.86,8.35],[34.77,7.46],[34.72,6.67],[34.68,5.98],[34.66,5.34],[34.73,4.65],[35.11,4.60],[35.136,3.22]];
const argoGaps = [[[34.97,6.28],[35.0,6.62],[35.05,7.07],[35.09,7.39]],[[35.10,7.46],[35.17,8.0]],[[35.18,8.25],[35.27,8.84],[35.35,9.28],[35.45,10.02]],[[35.30,8.54],[35.42,9.28],[35.58,10.61]]];
const argoPatches = [
[[36.60,21.49],[36.67,21.59],[36.77,21.20],[36.76,20.61],[36.71,20.21],[36.64,19.92],[36.59,19.52],[36.53,19.03],[36.45,18.63],[36.39,18.34],[36.33,17.85],[36.29,17.26],[36.26,17.45],[36.32,18.24],[36.39,19.13],[36.47,20.01],[36.53,20.70]],
[[36.11,17.85],[36.20,18.54],[36.23,18.14],[36.15,17.35],[36.14,16.66],[36.09,16.96]],
[[36.0,16.76],[36.08,17.45],[36.09,17.06],[36.05,16.27],[36.0,15.97]],
[[36.74,24.35],[36.89,24.35],[36.97,23.76],[36.91,22.87],[36.79,22.87],[36.73,23.46]],
[[36.67,22.67],[36.77,22.67],[36.82,22.18],[36.73,21.69],[36.65,21.99]],
[[36.91,23.07],[37.06,22.97],[37.15,23.07],[37.17,22.67],[37.06,22.28],[36.94,21.89],[36.89,22.28]],
[[37.03,24.45],[37.15,24.79],[37.21,24.65],[37.17,24.15],[37.06,23.86]],
[[37.26,23.86],[37.35,24.05],[37.33,23.76],[37.27,23.27]],
[[36.71,27.40],[36.85,27.26],[36.94,26.86],[36.82,26.62],[36.71,26.91]],
[[36.98,27.21],[37.09,26.71],[37.21,26.12],[37.15,25.93],[37.03,26.42]],
[[36.73,25.73],[36.85,25.83],[36.94,25.43],[37.06,25.04],[36.97,24.74],[36.85,25.04]],
[[36.58,26.91],[36.64,26.71],[36.67,25.83],[36.61,25.73]],
[[36.64,24.84],[36.71,24.35],[36.68,23.46],[36.62,23.66]],
[[36.2,26.95],[36.35,26.99],[36.44,26.6],[36.5,26.1],[36.52,25.6],[36.46,25.8],[36.4,26.3],[36.3,26.65],[36.2,26.75]],
[[37.29,26.52],[37.36,26.12],[37.44,25.63],[37.42,25.53],[37.35,25.98],[37.28,26.37]],
[[35.40,12.53],[35.51,13.18],[35.59,13.67],[35.61,13.42],[35.53,12.98],[35.42,12.39]],
[[35.30,11.85],[35.39,12.29],[35.40,12.24],[35.31,11.80]],
[[35.18,10.81],[35.23,11.06],[35.20,10.76]],
[[35.86,15.53],[36.07,16.71],[36.13,16.53],[35.95,15.32]],
[[35.74,14.85],[35.86,16.03],[35.92,15.82],[35.80,14.85]]
];
const argoStreaks = [
[[34.20,27.16],[34.39,27.06]],[[34.47,27.06],[34.53,27.11]],[[34.82,27.13],[34.86,27.06]],[[34.94,27.16],[35.0,27.13]],[[35.12,27.11],[35.15,26.96]],[[35.20,27.16],[35.32,27.06]],[[35.41,27.21],[35.74,27.06]],[[35.41,26.91],[35.52,26.86]],[[35.59,26.59],[35.73,26.62]],[[35.39,26.34],[35.48,26.32]],[[35.78,25.88],[35.81,25.78]],[[36.06,25.53],[36.17,25.48],[36.48,25.60]],[[37.29,26.69],[37.39,26.62],[37.52,26.47]],[[37.41,26.37],[37.515,26.32]]
];
const argoOutliers = [[34.02,26.81],[34.05,26.83],[34.07,26.83],[34.10,26.81],[34.14,27.11],[34.17,27.11],[34.20,27.16],[34.22,27.13],[34.23,27.06],[34.25,27.21],[34.27,27.16],[34.29,27.23],[34.31,27.11],[34.33,27.06],[34.35,27.26],[34.37,27.11],[34.20,26.89],[34.23,26.89],[34.27,26.89],[34.30,26.86],[34.35,26.88],[34.23,26.60],[34.27,26.62],[34.30,26.57],[34.33,26.57],[34.40,26.60],[34.44,26.65],[34.49,26.60],[34.42,27.29],[34.45,27.23],[34.41,27.13],[34.48,27.21],[34.52,27.26],[34.54,27.16],[34.48,27.01],[34.51,26.96],[34.55,26.83],[34.58,26.79],[34.56,26.66],[34.58,26.57],[34.65,27.58],[34.67,27.58],[34.70,27.58],[34.64,27.16],[34.67,27.21],[34.71,27.23],[34.75,27.29],[34.79,27.23],[34.82,27.16],[34.77,26.86],[34.79,26.91],[34.77,26.52],[34.83,27.43],[34.85,27.43],[34.89,27.45],[34.96,27.50],[34.89,27.16],[34.92,27.23],[34.97,27.11],[35.0,27.23],[35.04,27.35],[35.06,27.21],[34.91,26.52],[34.95,26.54],[34.98,26.52],[35.02,26.57],[35.06,26.50],[35.03,26.83],[35.11,26.62],[35.14,26.71],[35.17,26.50],[35.20,26.76],[35.23,26.83],[35.28,26.44],[35.12,27.26],[35.17,27.60],[35.19,27.55],[35.21,28.04],[35.48,28.27],[35.63,26.07],[35.76,26.37],[35.77,26.09],[35.91,25.78],[35.95,25.78],[35.52,27.72],[35.55,27.78],[35.33,27.70],[35.37,27.65],[35.42,27.70],[35.46,27.73],[35.64,27.78],[35.70,27.72],[35.80,27.78],[35.83,27.75],[35.89,27.80],[35.97,27.75],
[36.05,18.46],[36.17,19.21],[36.34,20.66],[36.38,21.61],[36.42,21.54],[36.42,21.25],[36.46,21.30],[36.41,23.66],[36.39,23.56],[36.40,23.36],[36.41,23.17],[36.44,22.87],[36.45,22.82],[36.48,22.58],[36.47,22.28],[36.50,22.48],[36.52,22.38],[36.48,22.08],[36.44,22.03],[36.45,21.98],[36.50,21.84],[36.54,21.74],[36.45,24.10],[36.47,24.0],[36.46,24.74],[36.48,24.65],[36.45,24.94],[36.41,24.55],[36.42,25.29],[36.45,25.04],[36.48,25.14],[36.40,23.96],[36.42,23.07],[36.20,28.64],
[34.946,9.58],[34.97,12.16],[34.996,12.09],[35.015,12.04],[35.03,11.99],[35.05,11.94],[35.07,11.91],[35.04,11.80],[35.07,11.70],[35.09,11.70],[35.12,11.65],[35.14,11.60],[35.07,11.52],[35.12,11.43],[35.18,11.35],[35.18,12.36],[35.22,12.39],[35.24,12.44],[35.24,12.56],[35.27,12.63],[35.28,12.83],[35.30,12.70],[35.27,12.81],[35.98,17.70],[35.95,17.47],[35.91,17.01],[35.82,16.22],
[36.79,27.70],[36.91,27.60],[37.05,27.21],[36.97,27.01],[37.11,26.52],[37.26,26.02],[37.29,25.33],[37.18,25.24],[37.30,24.25],[37.24,23.46],[37.12,24.45],[37.14,23.17],[37.0,23.46],[37.05,22.58],[36.92,22.58],[36.85,22.08],[36.80,22.38],[36.68,23.07],[36.97,21.30],[36.92,21.10],[37.03,20.90],[36.91,24.65],[36.79,24.74],[36.67,25.04],[36.61,25.04],[36.76,23.66],[36.88,23.66],[36.59,23.86],[36.65,26.32],[36.71,26.02],[37.20,25.73],[37.36,25.73],[37.41,24.25],[37.57,25.6],[37.63,25.0],[37.66,24.95]];
const argoTailSamples = [[34.12,27.05],[34.16,27.18],[34.19,27.02],[34.21,27.24],[34.24,27.0],[34.26,27.09],[34.28,27.02],[34.3,27.2],[34.32,26.98],[34.34,27.17],[34.36,26.98],[34.39,27.2],[34.43,27.08],[34.46,27.1],[34.5,27.12],[34.53,27.06],[34.56,27.02],[34.6,27.2],[34.62,27.08],[34.68,27.1],[34.72,27.06],[34.74,27.15],[34.77,27.1],[34.8,27.05],[34.84,27.22],[34.87,27.0],[34.9,27.05],[34.93,27.09],[34.95,27.2],[34.98,27.02],[35.01,27.12],[35.03,27.05],[35.05,27.12],[35.08,27.28],[35.09,27.05],[35.1,27.15],[35.13,27.2],[35.16,27.1],[35.18,27.0],[35.21,26.98],[35.24,27.15],[35.26,27.25],[35.28,26.95],[35.3,27.02],[35.34,26.9],[35.36,26.98],[35.38,27.12],[35.4,26.85],[35.43,26.95],[35.45,27.02],[35.47,26.85],[35.5,27.0],[35.53,27.05],[35.55,26.95],[35.57,26.8],[35.6,26.9],[35.62,27.0],[35.66,26.85],[35.68,26.98],[35.71,26.9],[35.75,26.85],[35.78,26.7],[35.82,26.6],[35.85,26.45],[35.87,26.7],[35.89,26.3],[35.93,26.5],[35.95,26.25],[35.97,26.6],[36.0,26.2],[36.03,26.0],[36.05,26.55],[36.08,26.3],[36.1,26.1],[36.12,26.65],[36.15,26.4],[36.18,26.2],[36.2,25.9],[36.22,26.5],[36.25,26.1],[36.28,25.95],[36.3,26.4],[36.33,26.15],[35.6,27.85],[35.72,27.88],[35.9,27.9],[36.02,27.9],[36.12,27.92],[36.25,27.95],[36.3,27.9],[36.35,27.93],[36.45,27.95],[36.52,27.98]];
const argoInteriorSamples = [[36.55,27.55],[36.6,27.62],[36.66,27.55],[36.7,27.6],[36.74,27.68],[36.78,27.5],[36.83,27.6],[36.87,27.48],[36.92,27.45],[36.96,27.55],[37.0,27.4],[37.03,27.5],[37.08,27.35],[37.11,27.2],[37.14,27.05],[37.18,26.9],[37.22,26.75],[36.9,27.15],[36.95,27.28],[37.02,26.95],[37.06,27.05],[37.1,26.85],[37.14,26.65],[37.18,26.55],[37.23,26.4],[37.27,26.25],[36.88,26.45],[36.92,26.6],[36.96,26.4],[37.0,26.2],[37.05,26.05],[37.1,25.9],[37.18,25.55],[37.22,25.4],[37.26,25.2],[37.3,25.0],[37.33,24.75],[37.34,24.5],[37.38,24.1],[37.38,23.7],[37.35,23.35],[37.3,23.0],[37.28,22.7],[37.24,22.45],[37.2,22.2],[37.16,21.9],[37.12,21.6],[37.08,21.3],[37.05,21.0],[37.0,20.7],[36.95,20.4],[36.9,20.6],[36.88,21.0],[36.85,21.4],[36.82,21.7],[36.9,21.55],[36.95,21.7],[37.0,21.85],[37.07,21.95],[37.12,22.3],[37.2,22.7],[37.2,23.3],[37.18,23.7],[37.14,23.9],[37.08,23.6],[37.04,23.2],[36.98,23.05],[36.85,23.3],[36.78,23.0],[36.72,23.3],[36.66,23.6],[36.64,24.2],[36.63,24.55],[36.68,24.7],[36.72,24.85],[36.76,25.0],[36.8,25.2],[36.74,25.35],[36.7,25.5],[36.66,25.6],[36.62,25.3],[36.6,24.7],[36.58,24.3],[36.57,23.5],[36.6,23.2],[36.62,22.9],[36.64,22.5],[36.62,22.2],[36.6,21.95],[36.8,24.6],[36.86,24.7],[36.95,24.9],[37.0,24.95],[37.05,25.25],[37.1,25.3],[37.12,25.0],[37.2,25.05],[37.24,24.9],[37.26,24.5],[37.25,24.2],[37.22,24.0],[37.0,25.55],[36.95,25.7],[36.9,25.9],[36.86,26.1],[36.8,26.3],[36.76,26.45],[36.72,26.3],[36.68,26.55],[36.6,26.5],[36.56,26.2],[36.55,25.7],[36.55,25.2],[36.56,24.8],[36.2,18.9],[36.28,19.0],[36.3,18.6],[36.24,18.4],[36.18,18.0],[36.12,17.6],[36.08,17.9],[36.03,17.5],[35.98,16.8],[35.93,16.3],[35.9,16.6],[36.38,19.6],[36.42,19.9],[36.48,20.3],[36.55,20.3],[36.62,19.6],[36.66,19.5],[36.72,19.9],[36.8,20.3],[36.8,20.9],[36.8,21.5],
[36.58,27.2],[36.63,27.1],[36.7,27.1],[36.75,27.05],[36.98,27.05],[36.88,27.0],[36.93,26.95],[37.05,26.85],[37.0,26.75],[36.95,26.7],[36.98,26.55],[37.05,26.45],[37.0,26.4],[37.1,26.55],[37.16,26.35],[37.2,26.2],[37.3,25.85],[37.25,25.75],[37.32,25.5],[37.35,25.25],[37.4,25.1],[37.4,24.8],[37.42,24.5],[37.3,24.65],[37.33,24.35],[37.28,23.75],[37.22,23.8],[37.3,23.4],[37.25,23.1],[37.33,22.9],[37.26,22.3],[37.18,22.4],[37.12,22.05],[37.05,21.75],[37.0,21.5],[36.98,21.1],[36.92,20.85],[36.85,20.7],[37.1,21.1],[37.15,21.4],[37.2,21.75],[37.25,22.0],[37.0,25.2],[36.95,25.1],[36.88,25.35],[36.85,25.55],[36.8,25.75],[36.76,25.9],[36.72,25.1],[36.7,25.25],[36.66,25.3],[36.6,25.55],[36.58,25.4],[36.58,25.0],[36.63,24.95],[36.7,24.55],[36.76,24.55],[36.84,24.45],[36.95,24.5],[37.0,24.3],[37.05,24.65],[36.98,24.1],[37.04,23.75],[37.1,23.55],[37.15,23.35],[37.08,23.3],[36.8,22.75],[36.85,22.75],[36.7,22.85],[36.6,22.6],[36.62,21.75],[36.7,21.55],[36.9,21.9],[36.75,20.3],[36.68,20.1],[36.62,20.05],[36.55,19.55],[36.5,19.5],[36.45,19.0],[36.4,18.5],[36.32,18.3],[36.25,17.95],[36.28,17.4],[36.35,18.0],[36.18,17.2],[36.12,17.0],[36.05,16.5],[35.85,15.4],[35.8,15.1],[35.97,16.1]];
const tsLegendNames = ['Argo floats', 'CTD'];
const tsLegendColors = ['#b22222', '#808080'];

// ---------- helpers ----------
const FONT = '"DejaVu Sans"';
const toPoints = a => a.map(p => p ? {x: p[0], y: p[1]} : {x: null, y: null});
const lineSet = (points, color, width, extra) => Object.assign({data: toPoints(points), borderColor: color, borderWidth: width, pointRadius: 0, fill: false, clip: 0, tension: 0, borderJoinStyle: 'round', borderCapStyle: 'butt'}, extra || {});
const shapeSet = (points, fill, edge, width, tension) => ({data: toPoints(points.concat([points[0]])), backgroundColor: fill, borderColor: edge, borderWidth: width, pointRadius: 0, fill: 'shape', clip: 0, tension: tension || 0});
const ringSet = (points, color, r, w) => ({data: toPoints(points), showLine: false, pointStyle: 'circle', pointRadius: r, pointBackgroundColor: 'rgba(0,0,0,0)', pointBorderColor: color, pointBorderWidth: w || 1.2, clip: 0});
const dotSet = (points, color, r) => ({data: toPoints(points), showLine: false, pointStyle: 'circle', pointRadius: r, pointBackgroundColor: color, pointBorderWidth: 0, clip: 0});
const stack = list => { list.forEach((d, i) => { d.order = list.length - i; }); return list; };
function text(ctx, str, x, y, align, size, rot) {
  ctx.save(); ctx.translate(x, y); if (rot) ctx.rotate(rot * Math.PI / 180);
  ctx.font = size + 'px ' + FONT; ctx.fillStyle = '#000'; ctx.textAlign = align; ctx.textBaseline = 'alphabetic';
  ctx.fillText(str, 0, 0); ctx.restore();
}
function frame(chart) {
  const a = chart.chartArea, c = chart.ctx;
  c.save(); c.strokeStyle = '#4d4d4d'; c.lineWidth = 1.4; c.strokeRect(a.left, a.top, a.right - a.left, a.bottom - a.top); c.restore();
}
function roundBox(c, x, y, w, h) {
  c.save(); c.beginPath(); c.roundRect(x, y, w, h, 6); c.fillStyle = '#fff'; c.fill(); c.strokeStyle = '#333'; c.lineWidth = 1.5; c.stroke(); c.restore();
}
const tickScale = (min, max, values, labels, pos, extra, padding) => Object.assign({
  type: 'linear', position: pos, min, max,
  afterBuildTicks: s => { s.ticks = values.map(v => ({value: v})); },
  ticks: {autoSkip: false, maxRotation: 0, padding: padding === undefined ? 3 : padding, color: '#000', font: {family: FONT, size: 33}, callback: v => labels[values.indexOf(v)]},
  border: {display: false}
}, extra);
Chart.defaults.animation = false;

// ---------- panel (a) ----------
const floats = [float6902878, float6902957, float6902958, float6902964, float6902966];
const mapSets = stack([].concat(
  bathymetry.map(c => lineSet(c, '#bfbfbf', 1.2, {tension: 0.35})),
  [shapeSet(southAmerica, '#778899', '#1a1a1a', 1)],
  islands.map(c => shapeSet(c, '#778899', '#1a1a1a', 1)),
  riverMouths.map(c => lineSet(c, '#ffffff', 1.6)),
  rivers.map(c => lineSet(c, '#00bfff', 1.4)),
  countryBorders.map(c => lineSet(c, '#1a1a1a', 1.3, {borderDash: [1.5, 2.5]})),
  ctdTracks.map(c => lineSet(c, '#1a1a1a', 2.8)),
  floats.map((c, i) => lineSet(c, floatColors[i], 5.5, {label: floatNames[i]}))
));
new Chart(document.getElementById('map'), {
  type: 'line',
  data: {datasets: mapSets},
  options: {
    responsive: false, animation: false, devicePixelRatio: 1,
    layout: {padding: {left: 0, right: 8, top: 52, bottom: 0}},
    plugins: {legend: {display: false}, tooltip: {enabled: false}},
    scales: {
      x: tickScale(-62, -46, lonTicks, lonTickLabels, 'bottom', {
        afterFit: s => { s.height = 96; },
        grid: {color: '#dcdcdc', lineWidth: 2, drawTicks: false}
      }, -1),
      y: tickScale(4, 20, latTicks, latTickLabels, 'left', {
        afterFit: s => { s.width = 99.5; },
        grid: {color: '#dcdcdc', lineWidth: 2, drawTicks: false}
      })
    }
  },
  plugins: [{
    id: 'mapDecor',
    afterDatasetsDraw(chart) {
      const c = chart.ctx; frame(chart);
      text(c, mapTitle, 555, 44, 'center', 36);
      text(c, mapPanel, 42, 50, 'left', 33);
      roundBox(c, 195, 77, 271, 258);
      floatNames.forEach((n, i) => {
        const y = 104.7 + i * 49.5;
        c.save(); c.strokeStyle = floatColors[i]; c.lineWidth = 5; c.beginPath(); c.moveTo(205.5, y); c.lineTo(278.5, y); c.stroke(); c.restore();
        text(c, n, 304, y + 12, 'left', 33);
      });
    }
  }]
});

// ---------- panel (b) ----------
const tsSets = stack([].concat(
  isopycnals.map(c => lineSet(c, '#000', 1.5, {borderDash: [1.4, 2.8], tension: 0.25})),
  [ringSet(ctdOutliers, '#c4c4c4', 2.3)],
  [shapeSet(argoEnvelope, '#b22222', '#b22222', 1)],
  argoGaps.map(c => lineSet(c, '#ffffff', 2)),
  [shapeSet(ctdEnvelope, '#808080', '#808080', 1)],
  argoPatches.map(c => shapeSet(c, '#b22222', '#b22222', 1, 0.3)),
  [dotSet(ctdBlobs, '#808080', 3)],
  [dotSet(sampleHoles, '#ffffff', 1.6)],
  argoStreaks.map(c => lineSet(c, '#b22222', 3.5)),
  ctdStreaks.map(c => lineSet(c, '#808080', 4)),
  [ringSet(argoOutliers, '#b22222', 2.3)],
  [ringSet(argoTailSamples, '#b22222', 2.3)],
  [ringSet(argoInteriorSamples, '#b22222', 2.6, 1.7)]
));
new Chart(document.getElementById('ts'), {
  type: 'line',
  data: {datasets: tsSets},
  options: {
    responsive: false, animation: false, devicePixelRatio: 1,
    layout: {padding: {left: 65, right: 0, top: 51.4, bottom: 0}},
    plugins: {legend: {display: false}, tooltip: {enabled: false}},
    scales: {
      x: tickScale(34, 38, salinityTicks, salinityTicks, 'bottom', {
        afterFit: s => { s.height = 95.6; },
        grid: {drawOnChartArea: false, tickLength: 6, tickColor: '#333', tickWidth: 1.4},
        title: {display: true, text: salinityLabel, color: '#000', font: {family: FONT, size: 33.5}, padding: {top: 0, bottom: 15}}
      }),
      y: tickScale(2, 29, temperatureTicks, temperatureTicks, 'right', {
        afterFit: s => { s.width = 102.5; },
        grid: {drawOnChartArea: false, tickLength: 6, tickColor: '#333', tickWidth: 1.4}
      })
    }
  },
  plugins: [{
    id: 'tsDecor',
    afterDatasetsDraw(chart) {
      const c = chart.ctx, a = chart.chartArea, xs = chart.scales.x, ys = chart.scales.y;
      c.save(); c.beginPath(); c.rect(a.left, a.top, a.right - a.left, a.bottom - a.top); c.clip();
      isopycnalLabels.forEach(l => {
        c.save(); c.translate(xs.getPixelForValue(l[1]), ys.getPixelForValue(l[2])); c.rotate(l[3] * Math.PI / 180);
        c.font = '32px ' + FONT; c.fillStyle = '#000'; c.textAlign = 'center'; c.textBaseline = 'middle';
        c.fillText(l[0], 0, 0); c.restore();
      });
      c.restore();
      frame(chart);
      text(c, tsTitle, 505.5, 44, 'center', 36);
      text(c, tsPanel, 11, 50, 'left', 33);
      text(c, temperatureLabel, 1026, 505, 'center', 34.5, -90);
      roundBox(c, 607, 821.5, 303, 109);
      tsLegendNames.forEach((n, i) => {
        const y = 849 + i * 49.5;
        c.save(); c.fillStyle = tsLegendColors[i]; c.beginPath(); c.arc(653, y, 8.7, 0, Math.PI * 2); c.fill(); c.restore();
        text(c, n, 714, y + 12, 'left', 33);
      });
    }
  }]
});
</script>
</body></html>
